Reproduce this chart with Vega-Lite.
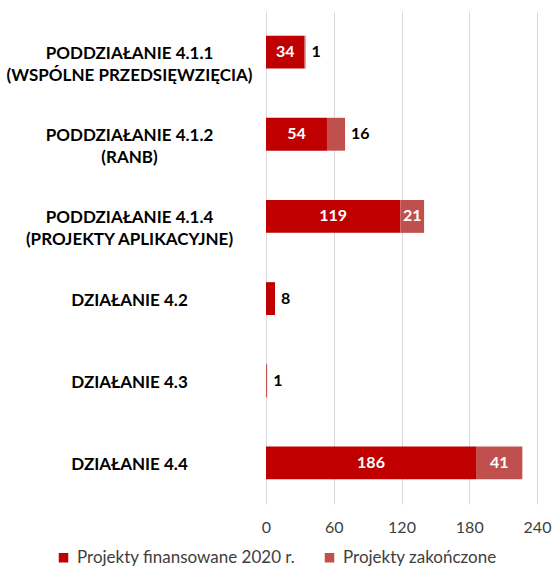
{
  "$schema": "https://vega.github.io/schema/vega-lite/v6.json",
  "autosize": {"type": "none"},
  "width": 271,
  "height": 493,
  "padding": {"left": 266, "top": 11, "right": 16, "bottom": 64},
  "config": {"font": "Lato", "view": {"stroke": null}},
  "data": {
    "values": [
      {"cat": "PODDZIAŁANIE 4.1.1|(WSPÓLNE PRZEDSIĘWZIĘCIA)", "series": "Projekty finansowane 2020 r.", "order": 1, "value": 34},
      {"cat": "PODDZIAŁANIE 4.1.1|(WSPÓLNE PRZEDSIĘWZIĘCIA)", "series": "Projekty zakończone", "order": 2, "value": 1},
      {"cat": "PODDZIAŁANIE 4.1.2|(RANB)", "series": "Projekty finansowane 2020 r.", "order": 1, "value": 54},
      {"cat": "PODDZIAŁANIE 4.1.2|(RANB)", "series": "Projekty zakończone", "order": 2, "value": 16},
      {"cat": "PODDZIAŁANIE 4.1.4|(PROJEKTY APLIKACYJNE)", "series": "Projekty finansowane 2020 r.", "order": 1, "value": 119},
      {"cat": "PODDZIAŁANIE 4.1.4|(PROJEKTY APLIKACYJNE)", "series": "Projekty zakończone", "order": 2, "value": 21},
      {"cat": "DZIAŁANIE 4.2", "series": "Projekty finansowane 2020 r.", "order": 1, "value": 8},
      {"cat": "DZIAŁANIE 4.3", "series": "Projekty zakończone", "order": 2, "value": 1},
      {"cat": "DZIAŁANIE 4.4", "series": "Projekty finansowane 2020 r.", "order": 1, "value": 186},
      {"cat": "DZIAŁANIE 4.4", "series": "Projekty zakończone", "order": 2, "value": 41}
    ]
  },
  "encoding": {
    "y": {
      "field": "cat",
      "type": "nominal",
      "sort": null,
      "scale": {"paddingInner": 0.6, "paddingOuter": 0.3},
      "axis": {
        "title": null,
        "domain": false,
        "ticks": false,
        "labelAlign": "center",
        "labelBaseline": "middle",
        "labelPadding": 137,
        "labelFontSize": 17,
        "labelFontWeight": "bold",
        "labelColor": "#000000",
        "labelLineHeight": 21.5,
        "labelOffset": 2,
        "labelLimit": 300,
        "labelExpr": "split(datum.label, '|')"
      }
    }
  },
  "layer": [
    {
      "mark": {"type": "bar"},
      "encoding": {
        "x": {
          "field": "value",
          "type": "quantitative",
          "aggregate": "sum",
          "stack": "zero",
          "scale": {"domain": [0, 240]},
          "axis": {
            "title": null,
            "values": [0, 60, 120, 180, 240],
            "domain": false,
            "ticks": false,
            "gridColor": "#d9d9d9",
            "gridWidth": 1,
            "labelFlush": false,
            "labelFontSize": 16,
            "labelColor": "#404040",
            "labelPadding": 15
          }
        },
        "color": {
          "field": "series",
          "type": "nominal",
          "scale": {"domain": ["Projekty finansowane 2020 r.", "Projekty zakończone"], "range": ["#C00000", "#C0504D"]},
          "legend": {
            "title": null,
            "orient": "none",
            "direction": "horizontal",
            "legendX": -211,
            "legendY": 538,
            "symbolType": "square",
            "symbolSize": 90,
            "symbolStrokeWidth": 0,
            "labelFontSize": 17,
            "labelColor": "#404040",
            "labelOffset": 5,
            "columnPadding": 25,
            "labelLimit": 400
          }
        },
        "order": {"field": "order", "type": "quantitative"}
      }
    },
    {
      "transform": [
        {"stack": "value", "groupby": ["cat"], "sort": [{"field": "order", "order": "ascending"}], "as": ["x0", "x1"]},
        {"filter": "datum.value >= 20"},
        {"fold": ["x0", "x1"], "as": ["edge", "pos"]},
        {"aggregate": [{"op": "mean", "field": "pos", "as": "mid"}], "groupby": ["cat", "series", "value"]}
      ],
      "mark": {"type": "text", "color": "#ffffff", "fontWeight": "bold", "fontSize": 16, "baseline": "middle"},
      "encoding": {
        "x": {"field": "mid", "type": "quantitative"},
        "text": {"field": "value", "type": "quantitative"}
      }
    },
    {
      "transform": [
        {"stack": "value", "groupby": ["cat"], "sort": [{"field": "order", "order": "ascending"}], "as": ["x0", "x1"]},
        {"filter": "datum.value < 20"}
      ],
      "mark": {"type": "text", "color": "#000000", "fontWeight": "bold", "fontSize": 16, "baseline": "middle", "align": "left", "dx": 6},
      "encoding": {
        "x": {"field": "x1", "type": "quantitative"},
        "text": {"field": "value", "type": "quantitative"}
      }
    }
  ]
}
